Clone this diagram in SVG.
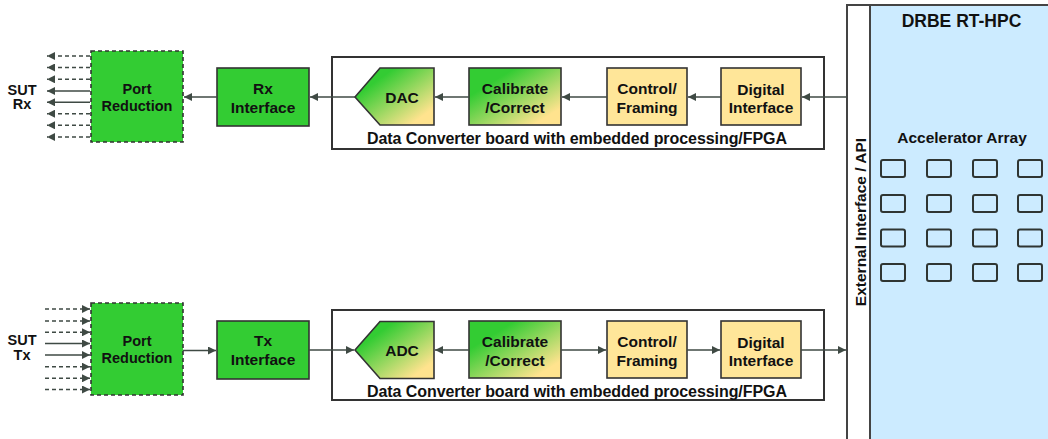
<svg xmlns="http://www.w3.org/2000/svg" width="1048" height="439" viewBox="0 0 1048 439">
  <style>
    text { font-family: "Liberation Sans", Arial, sans-serif; font-weight: bold; fill: #111; text-anchor: middle; }
    .lbl { font-size: 15.5px; }
    .sm { font-size: 14.5px; }
    .cap { font-size: 16px; }
    .box { stroke: #333; stroke-width: 1.6; }
    .green { fill: #33CC33; }
    .yellow { fill: #FFE699; }
    .grad { fill: url(#gy); }
    .board { fill: #fff; stroke: #333; stroke-width: 2; }
    .dash { stroke-dasharray: 4 3; }
    .wire { stroke: #3f4a44; stroke-width: 1.6; fill: none; }
    .arr { marker-end: url(#ah); }
    .cell { fill: none; stroke: #2f3532; stroke-width: 2; }
  </style>
  <defs>
    <linearGradient id="gy" x1="0" y1="0" x2="1" y2="1">
      <stop offset="0.25" stop-color="#33CC33"/>
      <stop offset="0.85" stop-color="#FFE38E"/>
    </linearGradient>
    <marker id="ah" viewBox="0 0 10 10" refX="10" refY="5" markerWidth="5" markerHeight="5" orient="auto" markerUnits="strokeWidth">
      <path d="M0,0 L10,5 L0,10 z" fill="#3f4a44"/>
    </marker>
  </defs>

  <!-- HPC side: interface strip and accelerator block -->
  <g id="ext-interface">
    <rect x="847" y="5" width="23" height="440" fill="#fff" stroke="#444" stroke-width="2"/>
    <text class="lbl" transform="translate(866,222) rotate(-90)">External Interface / API</text>
  </g>
  <g id="rt-hpc">
    <rect x="870" y="5" width="190" height="440" fill="#CCEBFF" stroke="#444" stroke-width="2"/>
    <text x="961.5" y="27" style="font-size:17.5px">DRBE RT-HPC</text>
    <text class="lbl" x="962" y="143">Accelerator Array</text>
    <g id="accelerators">
      <rect class="cell" x="881" y="160" width="24" height="17" rx="2"/>
      <rect class="cell" x="927" y="160" width="24" height="17" rx="2"/>
      <rect class="cell" x="973" y="160" width="24" height="17" rx="2"/>
      <rect class="cell" x="1018" y="160" width="24" height="17" rx="2"/>
      <rect class="cell" x="881" y="195" width="24" height="17" rx="2"/>
      <rect class="cell" x="927" y="195" width="24" height="17" rx="2"/>
      <rect class="cell" x="973" y="195" width="24" height="17" rx="2"/>
      <rect class="cell" x="1018" y="195" width="24" height="17" rx="2"/>
      <rect class="cell" x="881" y="229.5" width="24" height="17" rx="2"/>
      <rect class="cell" x="927" y="229.5" width="24" height="17" rx="2"/>
      <rect class="cell" x="973" y="229.5" width="24" height="17" rx="2"/>
      <rect class="cell" x="1018" y="229.5" width="24" height="17" rx="2"/>
      <rect class="cell" x="881" y="264" width="24" height="17" rx="2"/>
      <rect class="cell" x="927" y="264" width="24" height="17" rx="2"/>
      <rect class="cell" x="973" y="264" width="24" height="17" rx="2"/>
      <rect class="cell" x="1018" y="264" width="24" height="17" rx="2"/>
    </g>
  </g>

  <!-- Receive chain -->
  <g id="rx-board">
    <rect class="board" x="332" y="57" width="492" height="92"/>
    <text class="cap" x="577" y="144" textLength="420" lengthAdjust="spacing">Data Converter board with embedded processing/FPGA</text>
  </g>
  <g id="sut-rx"><text class="sm" x="22" y="95">SUT</text><text class="sm" x="22" y="109">Rx</text></g>
  <g id="rx-port-reduction">
    <rect class="box green dash" x="91" y="51" width="92" height="91"/>
    <text class="sm" x="137" y="94">Port</text>
    <text class="sm" x="137" y="110.7">Reduction</text>
  </g>
  <g id="rx-interface">
    <rect class="box green" x="217" y="68" width="92" height="58"/>
    <text class="lbl" x="263" y="94">Rx</text>
    <text class="lbl" x="263" y="113">Interface</text>
  </g>
  <g id="dac">
    <path class="box grad" d="M355,97 L380,68 L434,68 L434,125 L380,125 Z"/>
    <text class="lbl" x="402" y="102.5">DAC</text>
  </g>
  <g id="rx-calibrate">
    <rect class="box grad" x="469" y="68" width="92" height="57"/>
    <text class="lbl" x="515" y="94">Calibrate</text>
    <text class="lbl" x="515" y="112.5">/Correct</text>
  </g>
  <g id="rx-control">
    <rect class="box yellow" x="607" y="68" width="80" height="57"/>
    <text class="lbl" x="647" y="94">Control/</text>
    <text class="lbl" x="647" y="112.5">Framing</text>
  </g>
  <g id="rx-digital">
    <rect class="box yellow" x="721" y="68" width="80" height="57"/>
    <text class="lbl" x="761" y="94.5">Digital</text>
    <text class="lbl" x="761" y="113">Interface</text>
  </g>

  <!-- Transmit chain -->
  <g id="tx-board">
    <rect class="board" x="332" y="310" width="492" height="90"/>
    <text class="cap" x="577" y="396.5" textLength="420" lengthAdjust="spacing">Data Converter board with embedded processing/FPGA</text>
  </g>
  <g id="sut-tx"><text class="sm" x="22" y="345">SUT</text><text class="sm" x="22" y="360">Tx</text></g>
  <g id="tx-port-reduction">
    <rect class="box green dash" x="91" y="303" width="92" height="92"/>
    <text class="sm" x="137" y="346">Port</text>
    <text class="sm" x="137" y="363.3">Reduction</text>
  </g>
  <g id="tx-interface">
    <rect class="box green" x="217" y="321" width="92" height="58"/>
    <text class="lbl" x="263" y="346">Tx</text>
    <text class="lbl" x="263" y="365">Interface</text>
  </g>
  <g id="adc">
    <path class="box grad" d="M355,350 L380,321.5 L434,321.5 L434,378.5 L380,378.5 Z"/>
    <text class="lbl" x="402" y="355.5">ADC</text>
  </g>
  <g id="tx-calibrate">
    <rect class="box grad" x="469" y="321" width="92" height="57"/>
    <text class="lbl" x="515" y="347">Calibrate</text>
    <text class="lbl" x="515" y="365.5">/Correct</text>
  </g>
  <g id="tx-control">
    <rect class="box yellow" x="607" y="321" width="80" height="57"/>
    <text class="lbl" x="647" y="347">Control/</text>
    <text class="lbl" x="647" y="365.5">Framing</text>
  </g>
  <g id="tx-digital">
    <rect class="box yellow" x="721" y="321" width="80" height="57"/>
    <text class="lbl" x="761" y="347.5">Digital</text>
    <text class="lbl" x="761" y="366">Interface</text>
  </g>

  <!-- Connectors -->
  <g id="connectors">
    <!-- SUT Rx fan-out -->
    <line class="wire arr dash" x1="90" y1="56" x2="47" y2="56"/>
    <line class="wire arr dash" x1="90" y1="67.5" x2="47" y2="67.5"/>
    <line class="wire arr dash" x1="90" y1="79.3" x2="47" y2="79.3"/>
    <line class="wire arr" x1="90" y1="91" x2="47" y2="91"/>
    <line class="wire arr" x1="90" y1="102.3" x2="47" y2="102.3"/>
    <line class="wire arr dash" x1="90" y1="113.7" x2="47" y2="113.7"/>
    <line class="wire arr dash" x1="90" y1="125.3" x2="47" y2="125.3"/>
    <line class="wire arr dash" x1="90" y1="137" x2="47" y2="137"/>
    <!-- receive path -->
    <line class="wire arr" x1="217" y1="97" x2="184" y2="97"/>
    <line class="wire arr" x1="355" y1="97" x2="310" y2="97"/>
    <line class="wire arr" x1="469" y1="97" x2="435" y2="97"/>
    <line class="wire arr" x1="607" y1="97" x2="562" y2="97"/>
    <line class="wire arr" x1="721" y1="97" x2="688" y2="97"/>
    <line class="wire arr" x1="847" y1="97" x2="802" y2="97"/>
    <!-- SUT Tx fan-in -->
    <line class="wire arr dash" x1="45" y1="309" x2="90" y2="309"/>
    <line class="wire arr dash" x1="45" y1="321" x2="90" y2="321"/>
    <line class="wire arr dash" x1="45" y1="332.3" x2="90" y2="332.3"/>
    <line class="wire arr" x1="45" y1="343.5" x2="90" y2="343.5"/>
    <line class="wire arr" x1="45" y1="355" x2="90" y2="355"/>
    <line class="wire arr dash" x1="45" y1="366.7" x2="90" y2="366.7"/>
    <line class="wire arr dash" x1="45" y1="378.3" x2="90" y2="378.3"/>
    <line class="wire arr dash" x1="45" y1="389.5" x2="90" y2="389.5"/>
    <!-- transmit path -->
    <line class="wire arr" x1="183" y1="350.5" x2="216" y2="350.5"/>
    <line class="wire arr" x1="309" y1="350" x2="354" y2="350"/>
    <line class="wire arr" x1="469" y1="350" x2="435" y2="350"/>
    <line class="wire arr" x1="561" y1="350" x2="606" y2="350"/>
    <line class="wire arr" x1="687" y1="350" x2="720" y2="350"/>
    <line class="wire arr" x1="801" y1="350" x2="846" y2="350"/>
  </g>
</svg>
